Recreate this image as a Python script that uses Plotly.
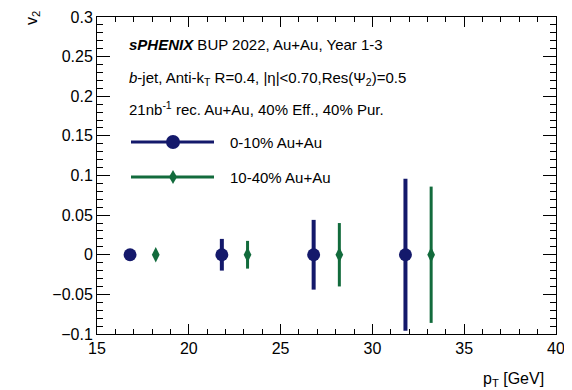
import plotly.graph_objects as go

# --- data ---
pt_central = [16.8, 21.8, 26.8, 31.8]
v2_central = [0, 0, 0, 0]
err_central = [0.006, 0.02, 0.044, 0.096]

pt_midcentral = [18.2, 23.2, 28.2, 33.2]
v2_midcentral = [0, 0, 0, 0]
err_midcentral = [0.004, 0.0175, 0.04, 0.086]

navy = "#14196b"
green = "#126b3c"
font = "Liberation Sans"

# page body has a margin, so the figure is shrunk to fit the window
OFF = 8
FW, FH = 572 - OFF, 390 - OFF
# plot area in window pixels
X0, X1, Y0, Y1 = 97, 556, 17, 334
L, R, T, B = X0 - OFF, 572 - X1, Y0 - OFF, 390 - Y1
W, H = X1 - X0, Y1 - Y0


def px(x):
    return (x - X0) / W


def py(y):
    return (Y1 - y) / H


fig = go.Figure()

fig.add_trace(go.Scatter(
    x=pt_central, y=v2_central, mode="markers", name="0-10% Au+Au",
    marker=dict(symbol="circle", size=13, color=navy),
    error_y=dict(type="data", array=err_central, color=navy, thickness=4, width=0),
    showlegend=False))

fig.add_trace(go.Scatter(
    x=pt_midcentral, y=v2_midcentral, mode="markers", name="10-40% Au+Au",
    marker=dict(symbol="diamond-tall", size=11, color=green),
    error_y=dict(type="data", array=err_midcentral, color=green, thickness=3, width=0),
    showlegend=False))

axis_common = dict(
    showline=True, linecolor="black", linewidth=1, mirror="allticks",
    ticks="inside", tickcolor="black", showgrid=False, zeroline=False,
    automargin=False, ticklabeloverflow="allow",
    tickfont=dict(family=font, size=16, color="black"),
)

fig.update_xaxes(range=[15, 40], dtick=5, tick0=15, ticklen=10,
                 minor=dict(ticks="inside", dtick=1, ticklen=5, tickcolor="black"),
                 **axis_common)
fig.update_yaxes(range=[-0.1, 0.3], dtick=0.05, tick0=0, ticklen=13,
                 minor=dict(ticks="inside", dtick=0.01, ticklen=6, tickcolor="black"),
                 **axis_common)

txt = dict(family=font, size=15, color="black")
annotations = [
    dict(x=px(33), y=py(18), text="v<sub>2</sub>", textangle=-90,
         xanchor="center", yanchor="middle", font=dict(family=font, size=16, color="black")),
    dict(x=px(546), y=py(379), text="p<sub>T</sub> [GeV]",
         xanchor="right", yanchor="middle", font=dict(family=font, size=16, color="black")),
    dict(x=px(127), y=py(44), text="<b><i>sPHENIX</i></b> BUP 2022, Au+Au, Year 1-3",
         xanchor="left", yanchor="middle"),
    dict(x=px(127), y=py(78), text="<i>b</i>-jet, Anti-k<sub>T</sub> R=0.4, |η|&lt;0.70,Res(Ψ<sub>2</sub>)=0.5",
         xanchor="left", yanchor="middle"),
    dict(x=px(127), y=py(108), text="21nb<sup>-1</sup> rec. Au+Au, 40% Eff., 40% Pur.",
         xanchor="left", yanchor="middle"),
    dict(x=px(228), y=py(142), text="0-10% Au+Au", xanchor="left", yanchor="middle"),
    dict(x=px(228), y=py(177), text="10-40% Au+Au", xanchor="left", yanchor="middle"),
]
for a in annotations:
    a.update(xref="paper", yref="paper", showarrow=False)
    a.setdefault("font", txt)

# legend samples drawn as shapes
shapes = [
    dict(type="line", xref="paper", yref="paper", x0=px(131), x1=px(214),
         y0=py(142), y1=py(142), line=dict(color=navy, width=3)),
    dict(type="circle", xref="paper", yref="paper", xsizemode="pixel", ysizemode="pixel",
         xanchor=px(173), yanchor=py(142), x0=-7, x1=7, y0=-7, y1=7,
         fillcolor=navy, line=dict(color=navy, width=0)),
    dict(type="line", xref="paper", yref="paper", x0=px(131), x1=px(214),
         y0=py(177), y1=py(177), line=dict(color=green, width=3)),
    dict(type="path", xref="paper", yref="paper", xsizemode="pixel", ysizemode="pixel",
         xanchor=px(173), yanchor=py(177), path="M 0 7 L 4 0 L 0 -7 L -4 0 Z",
         fillcolor=green, line=dict(color=green, width=0)),
]

fig.update_layout(
    width=FW, height=FH,
    margin=dict(l=L, r=R, t=T, b=B),
    plot_bgcolor="white", paper_bgcolor="white",
    annotations=annotations, shapes=shapes,
    showlegend=False,
)

fig.write_html("out.html")
